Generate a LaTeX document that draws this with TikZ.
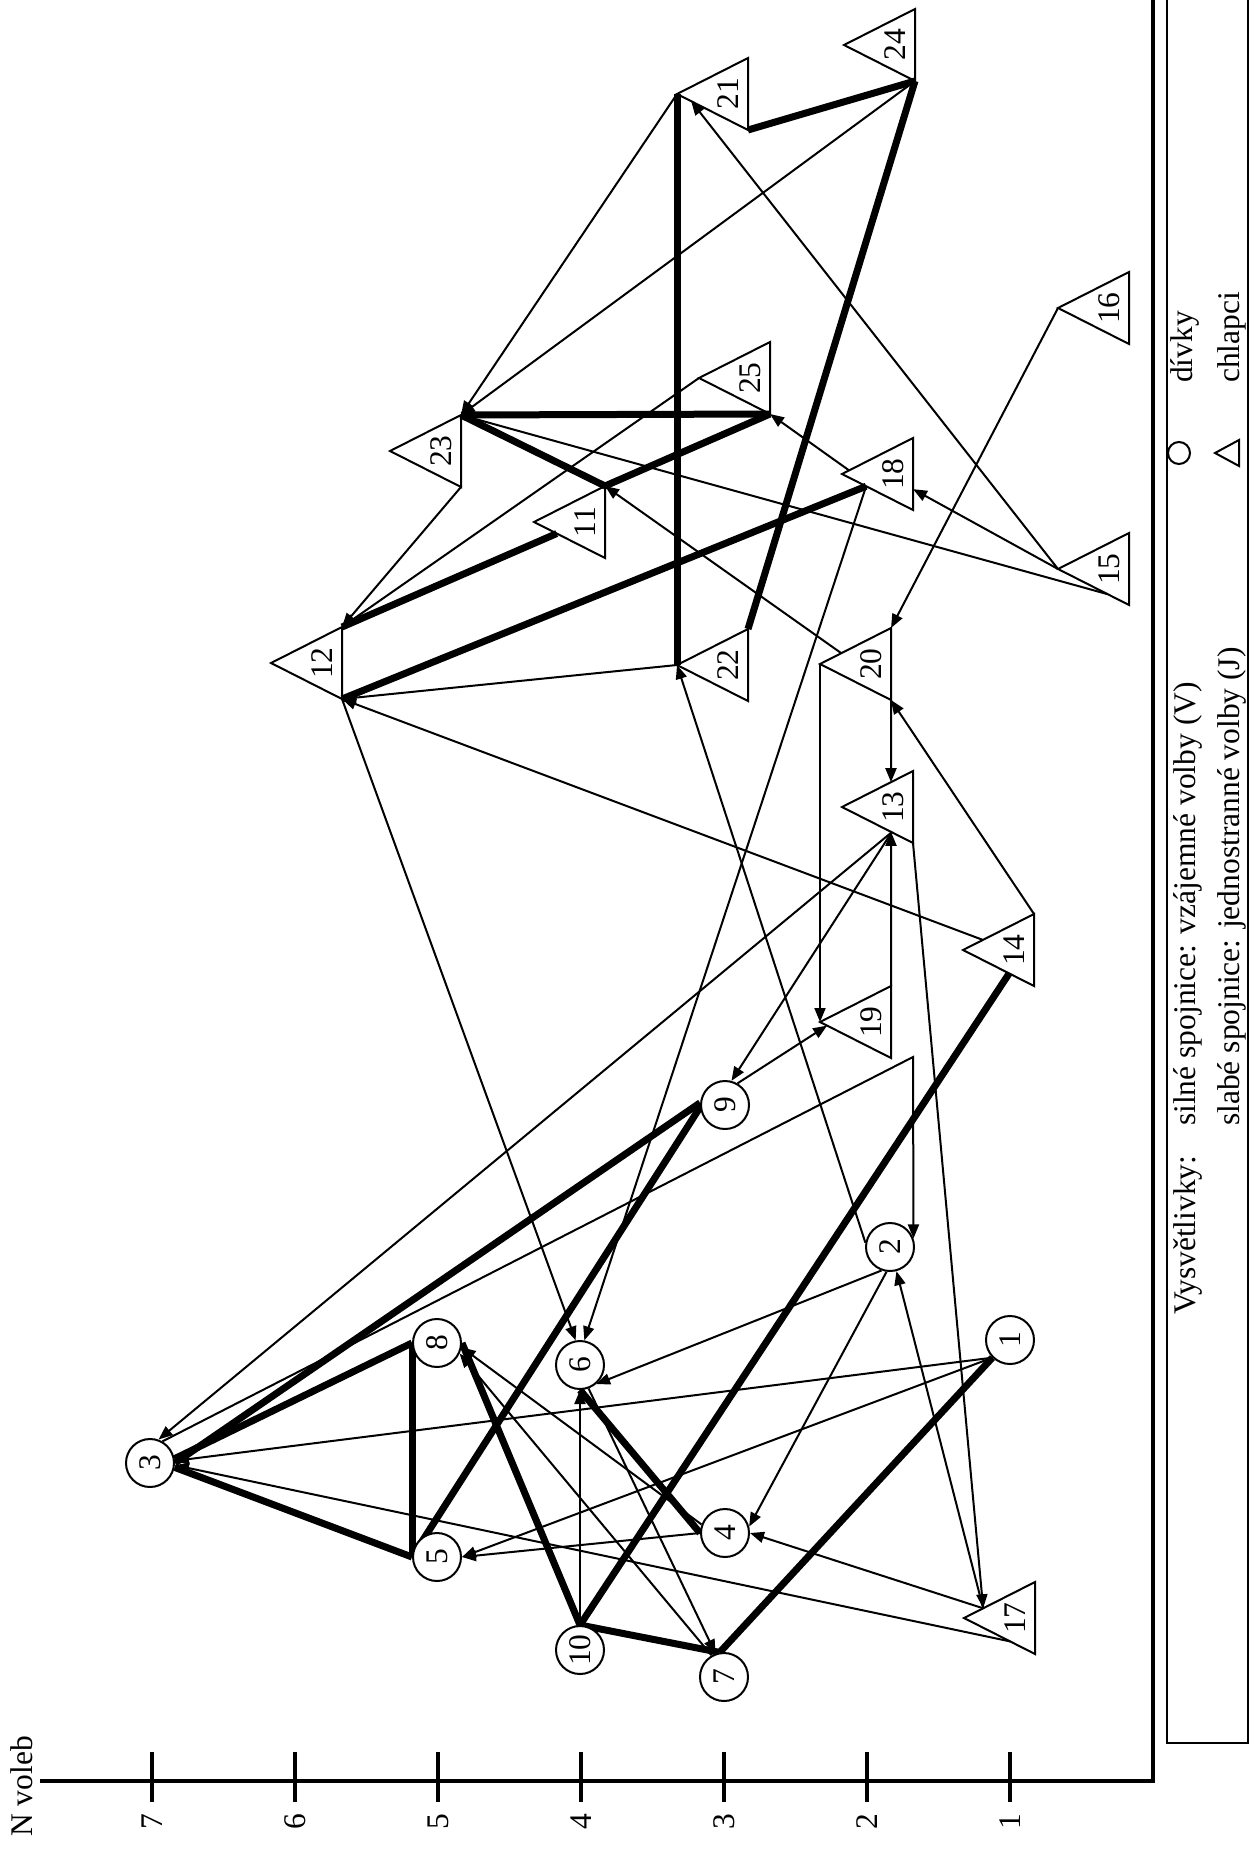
\documentclass[tikz,border=0pt]{standalone}
\usepackage{fontspec}
\usepackage{graphicx}
\setmainfont{Liberation Serif}
\usetikzlibrary{arrows.meta,calc,backgrounds}
\newcommand\mytri[4]{%
  \coordinate (#1-a) at ({#2-71},#3);
  \coordinate (#1-t) at (#2,{#3-36});
  \coordinate (#1-b) at (#2,{#3+36});
  \draw[triline] (#1-a) -- (#1-t) -- (#1-b) -- cycle;
  \node[tlabel] (#1) at ({#2-20},#3) {#4};}
\newcommand\mycirc[4]{\node[circ] (#1) at (#2,#3) {\rotatebox{90}{#4}};}
\begin{document}
\begin{tikzpicture}[x=1pt,y=-1pt,
  every node/.style={font=\fontsize{31.5}{38}\selectfont},
  circ/.style={circle,draw,line width=2pt,fill=white,minimum size=48pt,inner sep=0pt},
  tlabel/.style={rotate=90,inner sep=0pt},
  triline/.style={line width=2pt,line join=miter},
  weak/.style={line width=2pt,-{Triangle[length=14pt,width=11pt]}},
  strong/.style={line width=7pt},
  axisline/.style={line width=3.5pt},
  boxline/.style={line width=2pt}]
\useasboundingbox (0,0) rectangle (1253,1849);
% girls (circles)
\mycirc{c1}{1010}{1340}{1}
\mycirc{c2}{890}{1247}{2}
\mycirc{c3}{150}{1463}{3}
\mycirc{c4}{725}{1533}{4}
\mycirc{c5}{437}{1557}{5}
\mycirc{c6}{580}{1365}{6}
\mycirc{c7}{724}{1677}{7}
\mycirc{c8}{437}{1343}{8}
\mycirc{c9}{725}{1105}{9}
\mycirc{c10}{580}{1650}{10}
% boys (triangles)
\mytri{t11}{605}{522}{11}
\mytri{t12}{342}{663}{12}
\mytri{t13}{913}{807}{13}
\mytri{t14}{1034}{950}{14}
\mytri{t15}{1129}{569}{15}
\mytri{t16}{1129}{308}{16}
\mytri{t17}{1035}{1618}{17}
\mytri{t18}{913}{474}{18}
\mytri{t19}{891}{1022}{19}
\mytri{t20}{891}{664}{20}
\mytri{t21}{748}{94}{21}
\mytri{t22}{748}{665}{22}
\mytri{t23}{461}{451}{23}
\mytri{t24}{915}{45}{24}
\mytri{t25}{770}{378}{25}
\coordinate (k32) at (913,1057);
\coordinate (p17) at ($(t17-a)!0.27!(t17-t)$);
\coordinate (p13) at ($(t13-a)!0.7!(t13-b)$);
\coordinate (p18) at ($(t18-a)!0.34!(t18-b)$);
\begin{pgfonlayer}{background}
% mutual choices
\draw[strong] (c3.10) -- (c8.west);
\draw[strong] (c8.west) -- (c5.west);
\draw[strong] (c3.-10) -- (c5.west);
\draw[strong] (c3.east) -- (c9.175);
\draw[strong] (c5.west) -- (c9.185);
\draw[strong] (c8.east) -- (c10.north);
\draw[strong] (c10.north) -- (c7.100);
\draw[strong] (c10.north) -- ($(t14-a)!0.65!(t14-b)$);
\draw[strong] (c6.south) -- (c4.west);
\draw[strong] (c7.100) -- (c1.225);
\draw[strong] (t12-t) -- ($(t11-a)!0.32!(t11-b)$);
\draw[strong] (t12-b) -- (p18);
\draw[strong] (t23-t) -- (t11-t);
\draw[strong] (t11-t) -- (t25-b);
\draw[strong] (t23-t) -- (t25-b);
\draw[strong] (t21-a) -- (t22-a);
\draw[strong] (t22-t) -- (t24-b);
\draw[strong] (t24-b) -- (t21-b);
% one-sided choices
\draw[weak] (t21-a) -- (t23-t);
\draw[weak] (t24-b) -- (t23-t);
\draw[weak] ($(t15-a)!0.7!(t15-b)$) -- (t23-t);
\draw[weak] (t23-b) -- (t12-t);
\draw[weak] (t25-a) -- (t12-t);
\draw[weak] (t22-a) -- (t12-b);
\draw[weak] ($(t14-a)!0.28!(t14-t)$) -- (t12-b);
\draw[weak] (c2.170) -- (t22-a);
\draw[weak] (t12-b) -- (c6.100);
\draw[weak] (p18) -- (c6.80);
\draw[weak] (c2.250) -- (c6.-50);
\draw[weak] (c2.262) -- (c4.15);
\draw[weak] (p17) -- (c2.285);
\draw[weak] (t13-b) -- (p17);
\draw[weak] (p17) -- (c4.east);
\draw[weak] ($(t17-a)!0.65!(t17-b)$) -- (c3.-5);
\draw[weak] (c1.225) -- (c3.5);
\draw[weak] (c1.225) -- (c5.east);
\draw[weak] (c4.west) -- (c5.east);
\draw[weak] (c4.160) -- (c8.-10);
\draw[weak] (c7.120) -- (c8.-25);
\draw[weak] (c6.-70) -- (c7.110);
\draw[weak] (c10.north) -- (c6.south);
\draw[weak] (p13) -- (c9.75);
\draw[weak] (p13) -- (c3.70);
\draw[weak] (c9.60) -- ($(t19-a)!0.1!(t19-b)$);
\draw[weak] (t20-a) -- (t19-a);
\draw[weak] (t19-t) -- ($(t13-a)!0.69!(t13-b)$);
\draw[weak] (t20-b) -- ($(t13-a)!0.69!(t13-t)$);
\draw[weak] (t14-t) -- (t20-b);
\draw[weak] (t16-a) -- (t20-t);
\draw[weak] ($(t20-a)!0.3!(t20-t)$) -- (t11-t);
\draw[weak] ($(t18-a)!0.1!(t18-t)$) -- (t25-b);
\draw[weak] (t15-a) -- ($(t18-t)!0.71!(t18-b)$);
\draw[weak] (t15-a) -- ($(t21-a)!0.2!(t21-b)$);
\draw[weak] (c3.60) -- (k32) -- (c2.20);
\end{pgfonlayer}
% axis
\draw[axisline] (40,1781) -- (1153,1781) -- (1153,-5);
\foreach \v/\x in {7/152,6/295,5/438,4/581,3/724,2/867,1/1010}{
  \draw[axisline] (\x,1752) -- (\x,1802);
  \node[tlabel] (tick\v) at (\x,1822) {\v};}
\node[tlabel,anchor=west] (nvoleb) at (22,1837) {N voleb};
% legend
\draw[boxline] (1167,-5) -- (1167,1743) -- (1248,1743) -- (1248,-5);
\node[tlabel,anchor=west] (vysv) at (1188,1315) {Vysvětlivky:};
\node[tlabel,anchor=west] (leg1) at (1188,1126) {silné spojnice: vzájemné volby (V)};
\node[tlabel,anchor=west] (leg2) at (1232,1126) {slabé spojnice: jednostranné volby (J)};
\node[circle,draw,line width=2pt,minimum size=22pt,inner sep=0pt] (legc) at (1179,453) {};
\draw[triline] (1215,453) -- (1239,440) -- (1239,466) -- cycle;
\node[tlabel,anchor=west] (legd) at (1185,383) {dívky};
\node[tlabel,anchor=west] (legch) at (1232,383) {chlapci};
\end{tikzpicture}
\end{document}
